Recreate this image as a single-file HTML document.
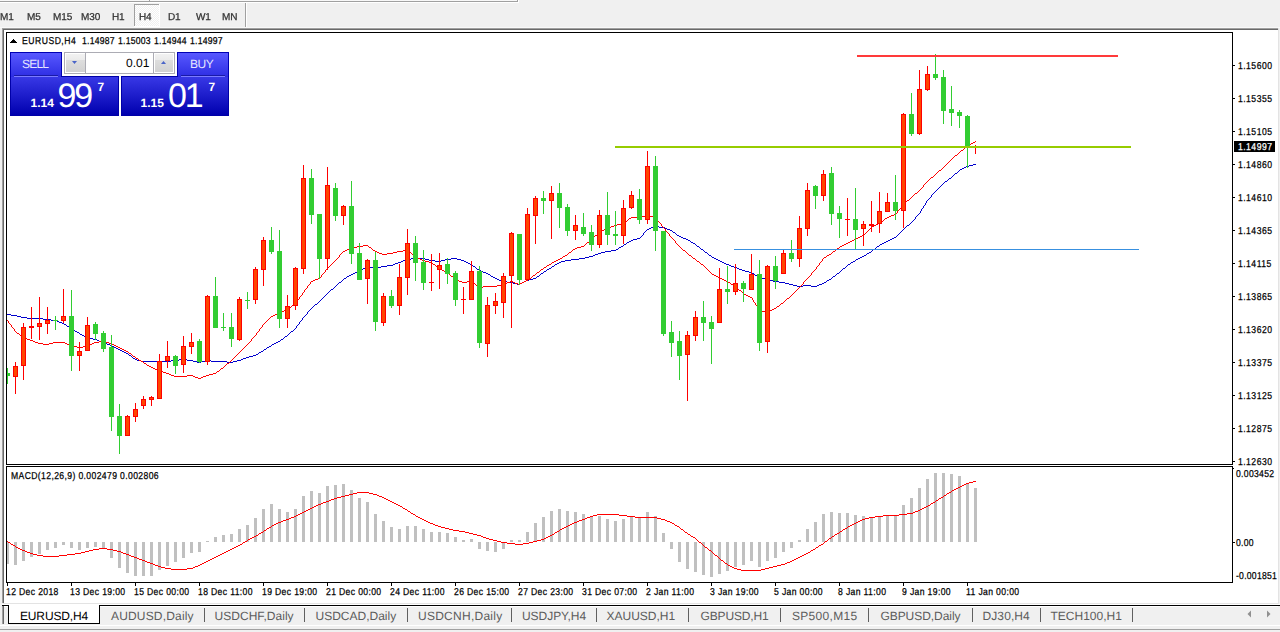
<!DOCTYPE html>
<html><head><meta charset="utf-8"><title>MetaTrader - EURUSD,H4</title>
<style>
html,body{margin:0;padding:0;width:1280px;height:632px;overflow:hidden;background:#f0f0f0}
body{position:relative;font-family:'Liberation Sans', sans-serif}
.t{position:absolute;white-space:pre;font-family:'Liberation Sans', sans-serif;text-rendering:geometricPrecision}
</style></head><body>
<svg width="1280" height="632" style="position:absolute;left:0;top:0"><rect x="0" y="0" width="517" height="1" fill="#f8f8f8"/><rect x="0" y="1" width="517" height="1" fill="#a0a0a0"/><rect x="517" y="0" width="1" height="2" fill="#a0a0a0"/><rect x="0" y="2" width="518" height="1" fill="#ffffff"/><rect x="518" y="0" width="1" height="3" fill="#ffffff"/><rect x="149" y="0" width="1" height="1" fill="#a0a0a0"/><defs><pattern id="dith" width="2" height="2" patternUnits="userSpaceOnUse"><rect width="2" height="2" fill="#f0f0f0"/><rect width="1" height="1" fill="#ffffff"/><rect x="1" y="1" width="1" height="1" fill="#ffffff"/></pattern></defs><rect x="134" y="4" width="25" height="22" fill="url(#dith)"/><rect x="134" y="4" width="25" height="1" fill="#a0a0a0"/><rect x="134" y="4" width="1" height="22" fill="#a0a0a0"/><rect x="159" y="4" width="1" height="23" fill="#ffffff"/><rect x="134" y="26" width="26" height="1" fill="#ffffff"/><rect x="245" y="3" width="1" height="24" fill="#a0a0a0"/><rect x="246" y="3" width="1" height="24" fill="#ffffff"/><rect x="0" y="27" width="1280" height="1" fill="#f8f8f8"/><rect x="2" y="28" width="1277" height="1" fill="#a0a0a0"/><rect x="3" y="29" width="1275" height="1" fill="#696969"/><rect x="2" y="28" width="1" height="575" fill="#a0a0a0"/><rect x="3" y="29" width="1" height="574" fill="#696969"/><rect x="4" y="30" width="1274" height="573" fill="#ffffff"/><rect x="1278" y="28" width="1" height="576" fill="#e3e3e3"/><rect x="3" y="603" width="1276" height="1" fill="#e3e3e3"/><rect x="2" y="604" width="1278" height="1" fill="#ffffff"/><rect x="6" y="32" width="1227" height="1" fill="#000"/><rect x="6" y="464" width="1227" height="1" fill="#000"/><rect x="6" y="32" width="1" height="433" fill="#000"/><rect x="1232" y="32" width="1" height="433" fill="#000"/><rect x="6" y="466" width="1227" height="1" fill="#000"/><rect x="6" y="582" width="1227" height="1" fill="#000"/><rect x="6" y="466" width="1" height="117" fill="#000"/><rect x="1232" y="466" width="1" height="117" fill="#000"/><rect x="1233" y="65" width="2" height="1" fill="#000"/><rect x="1233" y="98" width="2" height="1" fill="#000"/><rect x="1233" y="131" width="2" height="1" fill="#000"/><rect x="1233" y="164" width="2" height="1" fill="#000"/><rect x="1233" y="197" width="2" height="1" fill="#000"/><rect x="1233" y="230" width="2" height="1" fill="#000"/><rect x="1233" y="263" width="2" height="1" fill="#000"/><rect x="1233" y="296" width="2" height="1" fill="#000"/><rect x="1233" y="329" width="2" height="1" fill="#000"/><rect x="1233" y="362" width="2" height="1" fill="#000"/><rect x="1233" y="395" width="2" height="1" fill="#000"/><rect x="1233" y="428" width="2" height="1" fill="#000"/><rect x="1233" y="461" width="2" height="1" fill="#000"/><rect x="1233" y="468" width="1" height="1" fill="#000"/><rect x="1233" y="542" width="2" height="1" fill="#000"/><rect x="7" y="583" width="1" height="3" fill="#000"/><rect x="71" y="583" width="1" height="3" fill="#000"/><rect x="135" y="583" width="1" height="3" fill="#000"/><rect x="199" y="583" width="1" height="3" fill="#000"/><rect x="263" y="583" width="1" height="3" fill="#000"/><rect x="327" y="583" width="1" height="3" fill="#000"/><rect x="391" y="583" width="1" height="3" fill="#000"/><rect x="455" y="583" width="1" height="3" fill="#000"/><rect x="519" y="583" width="1" height="3" fill="#000"/><rect x="583" y="583" width="1" height="3" fill="#000"/><rect x="647" y="583" width="1" height="3" fill="#000"/><rect x="711" y="583" width="1" height="3" fill="#000"/><rect x="775" y="583" width="1" height="3" fill="#000"/><rect x="839" y="583" width="1" height="3" fill="#000"/><rect x="903" y="583" width="1" height="3" fill="#000"/><rect x="967" y="583" width="1" height="3" fill="#000"/><clipPath id="cmain"><rect x="7" y="33" width="1225" height="431"/></clipPath><clipPath id="cmacd"><rect x="7" y="467" width="1225" height="115"/></clipPath><g clip-path="url(#cmain)" shape-rendering="crispEdges"><path d="M973 164h3v1h-3zM969 165h4v1h-4zM966 166h3v1h-3zM964 167h2v1h-2zM962 168h2v1h-2zM960 169h2v1h-2zM959 170h1v1h-1zM958 171h1v1h-1zM957 172h1v1h-1zM955 173h2v1h-2zM954 174h1v1h-1zM953 175h1v1h-1zM952 176h1v1h-1zM951 177h1v1h-1zM949 178h2v1h-2zM948 179h1v1h-1zM947 180h1v1h-1zM945 181h2v1h-2zM944 182h1v1h-1zM943 183h1v1h-1zM942 184h1v1h-1zM941 185h1v1h-1zM940 186h1v1h-1zM939 187h1v1h-1zM938 188h1v1h-1zM937 189h1v1h-1zM936 190h1v1h-1zM935 191h1v1h-1zM934 192h1v1h-1zM933 193h1v1h-1zM932 194h1v1h-1zM931 195h1v1h-1zM931 196h1v1h-1zM930 197h1v1h-1zM929 198h1v1h-1zM928 199h1v1h-1zM927 200h1v1h-1zM926 201h1v1h-1zM926 202h1v1h-1zM925 203h1v1h-1zM925 204h1v1h-1zM924 205h1v1h-1zM923 206h1v1h-1zM923 207h1v1h-1zM922 208h1v1h-1zM921 209h1v1h-1zM921 210h1v1h-1zM920 211h1v1h-1zM920 212h1v1h-1zM919 213h1v1h-1zM918 214h1v1h-1zM917 215h1v1h-1zM916 216h1v1h-1zM915 217h1v1h-1zM915 218h1v1h-1zM914 219h1v1h-1zM913 220h1v1h-1zM912 221h1v1h-1zM911 222h1v1h-1zM910 223h1v1h-1zM909 224h1v1h-1zM907 225h2v1h-2zM654 226h5v1h-5zM906 226h1v1h-1zM651 227h3v1h-3zM659 227h6v1h-6zM905 227h1v1h-1zM649 228h2v1h-2zM665 228h2v1h-2zM904 228h1v1h-1zM647 229h2v1h-2zM667 229h3v1h-3zM903 229h1v1h-1zM646 230h1v1h-1zM670 230h2v1h-2zM902 230h1v1h-1zM645 231h1v1h-1zM672 231h1v1h-1zM901 231h1v1h-1zM644 232h1v1h-1zM673 232h2v1h-2zM900 232h1v1h-1zM643 233h1v1h-1zM675 233h1v1h-1zM899 233h1v1h-1zM643 234h1v1h-1zM676 234h1v1h-1zM898 234h1v1h-1zM642 235h1v1h-1zM677 235h2v1h-2zM897 235h1v1h-1zM641 236h1v1h-1zM679 236h2v1h-2zM896 236h1v1h-1zM640 237h1v1h-1zM681 237h2v1h-2zM894 237h2v1h-2zM637 238h3v1h-3zM683 238h3v1h-3zM892 238h2v1h-2zM633 239h4v1h-4zM686 239h2v1h-2zM890 239h2v1h-2zM631 240h2v1h-2zM688 240h2v1h-2zM888 240h2v1h-2zM629 241h2v1h-2zM690 241h1v1h-1zM886 241h2v1h-2zM627 242h2v1h-2zM691 242h2v1h-2zM884 242h2v1h-2zM626 243h1v1h-1zM693 243h2v1h-2zM882 243h2v1h-2zM624 244h2v1h-2zM695 244h1v1h-1zM880 244h2v1h-2zM623 245h1v1h-1zM696 245h1v1h-1zM879 245h1v1h-1zM621 246h2v1h-2zM697 246h2v1h-2zM877 246h2v1h-2zM619 247h2v1h-2zM699 247h1v1h-1zM876 247h1v1h-1zM618 248h1v1h-1zM700 248h1v1h-1zM875 248h1v1h-1zM616 249h2v1h-2zM701 249h2v1h-2zM873 249h2v1h-2zM611 250h5v1h-5zM703 250h1v1h-1zM872 250h1v1h-1zM605 251h6v1h-6zM704 251h1v1h-1zM871 251h1v1h-1zM601 252h4v1h-4zM705 252h2v1h-2zM869 252h2v1h-2zM598 253h3v1h-3zM707 253h1v1h-1zM867 253h2v1h-2zM595 254h3v1h-3zM708 254h1v1h-1zM866 254h1v1h-1zM593 255h2v1h-2zM709 255h2v1h-2zM864 255h2v1h-2zM589 256h4v1h-4zM711 256h1v1h-1zM862 256h2v1h-2zM585 257h4v1h-4zM712 257h2v1h-2zM860 257h2v1h-2zM411 258h14v1h-14zM451 258h6v1h-6zM579 258h6v1h-6zM714 258h2v1h-2zM858 258h2v1h-2zM406 259h5v1h-5zM425 259h4v1h-4zM445 259h6v1h-6zM457 259h4v1h-4zM571 259h8v1h-8zM716 259h2v1h-2zM856 259h2v1h-2zM403 260h3v1h-3zM429 260h6v1h-6zM441 260h4v1h-4zM461 260h3v1h-3zM565 260h6v1h-6zM718 260h2v1h-2zM855 260h1v1h-1zM401 261h2v1h-2zM435 261h6v1h-6zM464 261h2v1h-2zM561 261h4v1h-4zM720 261h2v1h-2zM853 261h2v1h-2zM398 262h3v1h-3zM466 262h2v1h-2zM559 262h2v1h-2zM722 262h2v1h-2zM851 262h2v1h-2zM395 263h3v1h-3zM468 263h2v1h-2zM557 263h2v1h-2zM724 263h2v1h-2zM850 263h1v1h-1zM393 264h2v1h-2zM470 264h2v1h-2zM555 264h2v1h-2zM726 264h3v1h-3zM848 264h2v1h-2zM387 265h6v1h-6zM472 265h1v1h-1zM554 265h1v1h-1zM729 265h2v1h-2zM847 265h1v1h-1zM367 266h2v1h-2zM381 266h6v1h-6zM473 266h2v1h-2zM552 266h2v1h-2zM731 266h3v1h-3zM846 266h1v1h-1zM365 267h2v1h-2zM369 267h4v1h-4zM377 267h4v1h-4zM475 267h1v1h-1zM551 267h1v1h-1zM734 267h3v1h-3zM845 267h1v1h-1zM363 268h2v1h-2zM373 268h4v1h-4zM476 268h1v1h-1zM549 268h2v1h-2zM737 268h2v1h-2zM843 268h2v1h-2zM362 269h1v1h-1zM477 269h2v1h-2zM547 269h2v1h-2zM739 269h3v1h-3zM842 269h1v1h-1zM360 270h2v1h-2zM479 270h2v1h-2zM546 270h1v1h-1zM742 270h3v1h-3zM841 270h1v1h-1zM358 271h2v1h-2zM481 271h2v1h-2zM544 271h2v1h-2zM745 271h4v1h-4zM840 271h1v1h-1zM355 272h3v1h-3zM483 272h3v1h-3zM543 272h1v1h-1zM749 272h3v1h-3zM839 272h1v1h-1zM353 273h2v1h-2zM486 273h2v1h-2zM541 273h2v1h-2zM752 273h2v1h-2zM837 273h2v1h-2zM351 274h2v1h-2zM488 274h2v1h-2zM540 274h1v1h-1zM754 274h1v1h-1zM836 274h1v1h-1zM349 275h2v1h-2zM490 275h1v1h-1zM539 275h1v1h-1zM755 275h2v1h-2zM835 275h1v1h-1zM347 276h2v1h-2zM491 276h2v1h-2zM537 276h2v1h-2zM757 276h2v1h-2zM833 276h2v1h-2zM346 277h1v1h-1zM493 277h2v1h-2zM536 277h1v1h-1zM759 277h2v1h-2zM832 277h1v1h-1zM344 278h2v1h-2zM495 278h2v1h-2zM533 278h3v1h-3zM761 278h4v1h-4zM831 278h1v1h-1zM343 279h1v1h-1zM497 279h2v1h-2zM529 279h4v1h-4zM765 279h4v1h-4zM829 279h2v1h-2zM342 280h1v1h-1zM499 280h3v1h-3zM526 280h3v1h-3zM769 280h4v1h-4zM827 280h2v1h-2zM341 281h1v1h-1zM502 281h5v1h-5zM524 281h2v1h-2zM773 281h6v1h-6zM826 281h1v1h-1zM339 282h2v1h-2zM507 282h6v1h-6zM522 282h2v1h-2zM779 282h6v1h-6zM824 282h2v1h-2zM338 283h1v1h-1zM513 283h4v1h-4zM520 283h2v1h-2zM785 283h4v1h-4zM822 283h2v1h-2zM337 284h1v1h-1zM517 284h3v1h-3zM789 284h4v1h-4zM819 284h3v1h-3zM336 285h1v1h-1zM793 285h4v1h-4zM803 285h8v1h-8zM817 285h2v1h-2zM335 286h1v1h-1zM797 286h6v1h-6zM811 286h6v1h-6zM334 287h1v1h-1zM333 288h1v1h-1zM331 289h2v1h-2zM330 290h1v1h-1zM329 291h1v1h-1zM328 292h1v1h-1zM327 293h1v1h-1zM326 294h1v1h-1zM325 295h1v1h-1zM324 296h1v1h-1zM323 297h1v1h-1zM322 298h1v1h-1zM321 299h1v1h-1zM320 300h1v1h-1zM319 301h1v1h-1zM318 302h1v1h-1zM317 303h1v1h-1zM315 304h2v1h-2zM314 305h1v1h-1zM313 306h1v1h-1zM312 307h1v1h-1zM311 308h1v1h-1zM310 309h1v1h-1zM309 310h1v1h-1zM308 311h1v1h-1zM307 312h1v1h-1zM307 313h1v1h-1zM7 314h4v1h-4zM306 314h1v1h-1zM11 315h6v1h-6zM305 315h1v1h-1zM17 316h4v1h-4zM304 316h1v1h-1zM21 317h6v1h-6zM303 317h1v1h-1zM27 318h16v1h-16zM302 318h1v1h-1zM43 319h8v1h-8zM302 319h1v1h-1zM51 320h6v1h-6zM301 320h1v1h-1zM57 321h2v1h-2zM300 321h1v1h-1zM59 322h3v1h-3zM299 322h1v1h-1zM62 323h2v1h-2zM299 323h1v1h-1zM64 324h2v1h-2zM298 324h1v1h-1zM66 325h1v1h-1zM297 325h1v1h-1zM67 326h2v1h-2zM296 326h1v1h-1zM69 327h2v1h-2zM296 327h1v1h-1zM71 328h1v1h-1zM295 328h1v1h-1zM72 329h2v1h-2zM294 329h1v1h-1zM74 330h1v1h-1zM293 330h1v1h-1zM75 331h2v1h-2zM291 331h2v1h-2zM77 332h2v1h-2zM290 332h1v1h-1zM79 333h1v1h-1zM289 333h1v1h-1zM80 334h2v1h-2zM288 334h1v1h-1zM82 335h2v1h-2zM287 335h1v1h-1zM84 336h2v1h-2zM285 336h2v1h-2zM86 337h3v1h-3zM284 337h1v1h-1zM89 338h4v1h-4zM283 338h1v1h-1zM93 339h4v1h-4zM281 339h2v1h-2zM97 340h2v1h-2zM280 340h1v1h-1zM99 341h3v1h-3zM278 341h2v1h-2zM102 342h3v1h-3zM276 342h2v1h-2zM105 343h2v1h-2zM274 343h2v1h-2zM107 344h3v1h-3zM272 344h2v1h-2zM110 345h2v1h-2zM271 345h1v1h-1zM112 346h2v1h-2zM269 346h2v1h-2zM114 347h2v1h-2zM267 347h2v1h-2zM116 348h2v1h-2zM266 348h1v1h-1zM118 349h2v1h-2zM264 349h2v1h-2zM120 350h2v1h-2zM263 350h1v1h-1zM122 351h2v1h-2zM261 351h2v1h-2zM124 352h2v1h-2zM259 352h2v1h-2zM126 353h2v1h-2zM258 353h1v1h-1zM128 354h1v1h-1zM256 354h2v1h-2zM129 355h2v1h-2zM253 355h3v1h-3zM131 356h1v1h-1zM249 356h4v1h-4zM132 357h1v1h-1zM246 357h3v1h-3zM133 358h2v1h-2zM243 358h3v1h-3zM135 359h2v1h-2zM179 359h8v1h-8zM241 359h2v1h-2zM137 360h4v1h-4zM171 360h8v1h-8zM187 360h6v1h-6zM205 360h6v1h-6zM237 360h4v1h-4zM141 361h30v1h-30zM193 361h4v1h-4zM201 361h4v1h-4zM211 361h16v1h-16zM233 361h4v1h-4zM197 362h4v1h-4zM227 362h6v1h-6z" fill="#0000cd"/><path d="M975 141h1v1h-1zM973 142h2v1h-2zM971 143h2v1h-2zM970 144h1v1h-1zM968 145h2v1h-2zM967 146h1v1h-1zM965 147h2v1h-2zM964 148h1v1h-1zM963 149h1v1h-1zM961 150h2v1h-2zM960 151h1v1h-1zM959 152h1v1h-1zM958 153h1v1h-1zM957 154h1v1h-1zM955 155h2v1h-2zM954 156h1v1h-1zM953 157h1v1h-1zM952 158h1v1h-1zM951 159h1v1h-1zM950 160h1v1h-1zM949 161h1v1h-1zM948 162h1v1h-1zM947 163h1v1h-1zM946 164h1v1h-1zM945 165h1v1h-1zM944 166h1v1h-1zM943 167h1v1h-1zM942 168h1v1h-1zM941 169h1v1h-1zM939 170h2v1h-2zM938 171h1v1h-1zM937 172h1v1h-1zM936 173h1v1h-1zM935 174h1v1h-1zM934 175h1v1h-1zM933 176h1v1h-1zM931 177h2v1h-2zM930 178h1v1h-1zM929 179h1v1h-1zM928 180h1v1h-1zM927 181h1v1h-1zM926 182h1v1h-1zM925 183h1v1h-1zM924 184h1v1h-1zM923 185h1v1h-1zM923 186h1v1h-1zM922 187h1v1h-1zM921 188h1v1h-1zM920 189h1v1h-1zM919 190h1v1h-1zM918 191h1v1h-1zM917 192h1v1h-1zM915 193h2v1h-2zM914 194h1v1h-1zM913 195h1v1h-1zM912 196h1v1h-1zM911 197h1v1h-1zM910 198h1v1h-1zM909 199h1v1h-1zM907 200h2v1h-2zM906 201h1v1h-1zM905 202h1v1h-1zM904 203h1v1h-1zM903 204h1v1h-1zM902 205h1v1h-1zM901 206h1v1h-1zM901 207h1v1h-1zM900 208h1v1h-1zM899 209h1v1h-1zM898 210h1v1h-1zM897 211h1v1h-1zM897 212h1v1h-1zM896 213h1v1h-1zM894 214h2v1h-2zM645 215h4v1h-4zM891 215h3v1h-3zM641 216h4v1h-4zM649 216h4v1h-4zM889 216h2v1h-2zM631 217h10v1h-10zM653 217h3v1h-3zM887 217h2v1h-2zM629 218h2v1h-2zM656 218h1v1h-1zM885 218h2v1h-2zM628 219h1v1h-1zM657 219h1v1h-1zM884 219h1v1h-1zM627 220h1v1h-1zM657 220h1v1h-1zM883 220h1v1h-1zM625 221h2v1h-2zM658 221h1v1h-1zM881 221h2v1h-2zM624 222h1v1h-1zM659 222h1v1h-1zM880 222h1v1h-1zM621 223h3v1h-3zM660 223h1v1h-1zM878 223h2v1h-2zM617 224h4v1h-4zM661 224h1v1h-1zM876 224h2v1h-2zM614 225h3v1h-3zM661 225h1v1h-1zM874 225h2v1h-2zM611 226h3v1h-3zM662 226h1v1h-1zM872 226h2v1h-2zM609 227h2v1h-2zM663 227h1v1h-1zM871 227h1v1h-1zM606 228h3v1h-3zM664 228h1v1h-1zM870 228h1v1h-1zM604 229h2v1h-2zM665 229h1v1h-1zM869 229h1v1h-1zM602 230h2v1h-2zM665 230h1v1h-1zM868 230h1v1h-1zM600 231h2v1h-2zM666 231h1v1h-1zM867 231h1v1h-1zM599 232h1v1h-1zM667 232h1v1h-1zM866 232h1v1h-1zM598 233h1v1h-1zM668 233h1v1h-1zM865 233h1v1h-1zM597 234h1v1h-1zM669 234h1v1h-1zM864 234h1v1h-1zM595 235h2v1h-2zM669 235h1v1h-1zM862 235h2v1h-2zM594 236h1v1h-1zM670 236h1v1h-1zM860 236h2v1h-2zM593 237h1v1h-1zM671 237h1v1h-1zM858 237h2v1h-2zM592 238h1v1h-1zM672 238h1v1h-1zM856 238h2v1h-2zM591 239h1v1h-1zM673 239h1v1h-1zM854 239h2v1h-2zM590 240h1v1h-1zM674 240h1v1h-1zM852 240h2v1h-2zM589 241h1v1h-1zM675 241h1v1h-1zM850 241h2v1h-2zM587 242h2v1h-2zM675 242h1v1h-1zM848 242h2v1h-2zM586 243h1v1h-1zM676 243h1v1h-1zM846 243h2v1h-2zM585 244h1v1h-1zM677 244h1v1h-1zM844 244h2v1h-2zM363 245h5v1h-5zM584 245h1v1h-1zM678 245h1v1h-1zM842 245h2v1h-2zM357 246h6v1h-6zM368 246h1v1h-1zM581 246h3v1h-3zM679 246h1v1h-1zM840 246h2v1h-2zM353 247h4v1h-4zM369 247h2v1h-2zM577 247h4v1h-4zM680 247h1v1h-1zM839 247h1v1h-1zM350 248h3v1h-3zM371 248h1v1h-1zM575 248h2v1h-2zM681 248h1v1h-1zM837 248h2v1h-2zM347 249h3v1h-3zM372 249h1v1h-1zM573 249h2v1h-2zM682 249h1v1h-1zM836 249h1v1h-1zM345 250h2v1h-2zM373 250h2v1h-2zM403 250h5v1h-5zM572 250h1v1h-1zM683 250h2v1h-2zM835 250h1v1h-1zM343 251h2v1h-2zM375 251h2v1h-2zM397 251h6v1h-6zM408 251h1v1h-1zM571 251h1v1h-1zM685 251h1v1h-1zM833 251h2v1h-2zM342 252h1v1h-1zM377 252h2v1h-2zM393 252h4v1h-4zM409 252h2v1h-2zM569 252h2v1h-2zM686 252h1v1h-1zM832 252h1v1h-1zM341 253h1v1h-1zM379 253h3v1h-3zM387 253h6v1h-6zM411 253h1v1h-1zM568 253h1v1h-1zM687 253h1v1h-1zM831 253h1v1h-1zM340 254h1v1h-1zM382 254h5v1h-5zM412 254h1v1h-1zM567 254h1v1h-1zM688 254h1v1h-1zM829 254h2v1h-2zM339 255h1v1h-1zM413 255h2v1h-2zM565 255h2v1h-2zM689 255h2v1h-2zM827 255h2v1h-2zM339 256h1v1h-1zM415 256h1v1h-1zM563 256h2v1h-2zM691 256h1v1h-1zM826 256h1v1h-1zM338 257h1v1h-1zM416 257h2v1h-2zM562 257h1v1h-1zM692 257h1v1h-1zM824 257h2v1h-2zM337 258h1v1h-1zM418 258h2v1h-2zM560 258h2v1h-2zM693 258h2v1h-2zM823 258h1v1h-1zM336 259h1v1h-1zM420 259h2v1h-2zM558 259h2v1h-2zM695 259h1v1h-1zM822 259h1v1h-1zM335 260h1v1h-1zM422 260h3v1h-3zM556 260h2v1h-2zM696 260h1v1h-1zM822 260h1v1h-1zM334 261h1v1h-1zM425 261h4v1h-4zM554 261h2v1h-2zM697 261h2v1h-2zM821 261h1v1h-1zM333 262h1v1h-1zM429 262h3v1h-3zM552 262h2v1h-2zM699 262h1v1h-1zM820 262h1v1h-1zM332 263h1v1h-1zM432 263h1v1h-1zM551 263h1v1h-1zM700 263h1v1h-1zM819 263h1v1h-1zM331 264h1v1h-1zM433 264h2v1h-2zM549 264h2v1h-2zM701 264h2v1h-2zM819 264h1v1h-1zM330 265h1v1h-1zM435 265h1v1h-1zM547 265h2v1h-2zM703 265h1v1h-1zM818 265h1v1h-1zM329 266h1v1h-1zM436 266h1v1h-1zM546 266h1v1h-1zM704 266h1v1h-1zM817 266h1v1h-1zM328 267h1v1h-1zM437 267h2v1h-2zM544 267h2v1h-2zM705 267h1v1h-1zM816 267h1v1h-1zM327 268h1v1h-1zM439 268h1v1h-1zM543 268h1v1h-1zM706 268h1v1h-1zM816 268h1v1h-1zM326 269h1v1h-1zM440 269h2v1h-2zM541 269h2v1h-2zM707 269h1v1h-1zM815 269h1v1h-1zM325 270h1v1h-1zM442 270h2v1h-2zM540 270h1v1h-1zM708 270h1v1h-1zM814 270h1v1h-1zM325 271h1v1h-1zM444 271h2v1h-2zM539 271h1v1h-1zM709 271h1v1h-1zM813 271h1v1h-1zM324 272h1v1h-1zM446 272h2v1h-2zM537 272h2v1h-2zM710 272h1v1h-1zM812 272h1v1h-1zM323 273h1v1h-1zM448 273h1v1h-1zM536 273h1v1h-1zM711 273h1v1h-1zM811 273h1v1h-1zM322 274h1v1h-1zM449 274h1v1h-1zM535 274h1v1h-1zM712 274h2v1h-2zM811 274h1v1h-1zM321 275h1v1h-1zM450 275h1v1h-1zM533 275h2v1h-2zM714 275h2v1h-2zM810 275h1v1h-1zM321 276h1v1h-1zM451 276h2v1h-2zM532 276h1v1h-1zM716 276h2v1h-2zM809 276h1v1h-1zM320 277h1v1h-1zM453 277h1v1h-1zM531 277h1v1h-1zM718 277h2v1h-2zM808 277h1v1h-1zM318 278h2v1h-2zM454 278h1v1h-1zM529 278h2v1h-2zM720 278h2v1h-2zM807 278h1v1h-1zM315 279h3v1h-3zM455 279h2v1h-2zM528 279h1v1h-1zM722 279h2v1h-2zM806 279h1v1h-1zM313 280h2v1h-2zM457 280h2v1h-2zM526 280h2v1h-2zM724 280h2v1h-2zM805 280h1v1h-1zM311 281h2v1h-2zM459 281h3v1h-3zM467 281h5v1h-5zM510 281h3v1h-3zM524 281h2v1h-2zM726 281h2v1h-2zM804 281h1v1h-1zM310 282h1v1h-1zM462 282h5v1h-5zM472 282h1v1h-1zM507 282h3v1h-3zM513 282h2v1h-2zM522 282h2v1h-2zM728 282h2v1h-2zM803 282h1v1h-1zM310 283h1v1h-1zM473 283h2v1h-2zM505 283h2v1h-2zM515 283h3v1h-3zM520 283h2v1h-2zM730 283h1v1h-1zM803 283h1v1h-1zM309 284h1v1h-1zM475 284h1v1h-1zM501 284h4v1h-4zM518 284h2v1h-2zM731 284h2v1h-2zM802 284h1v1h-1zM308 285h1v1h-1zM476 285h1v1h-1zM497 285h4v1h-4zM733 285h2v1h-2zM801 285h1v1h-1zM307 286h1v1h-1zM477 286h2v1h-2zM483 286h14v1h-14zM735 286h1v1h-1zM800 286h1v1h-1zM307 287h1v1h-1zM479 287h4v1h-4zM736 287h1v1h-1zM799 287h1v1h-1zM306 288h1v1h-1zM737 288h1v1h-1zM798 288h1v1h-1zM305 289h1v1h-1zM738 289h1v1h-1zM797 289h1v1h-1zM304 290h1v1h-1zM739 290h2v1h-2zM796 290h1v1h-1zM304 291h1v1h-1zM741 291h1v1h-1zM795 291h1v1h-1zM303 292h1v1h-1zM742 292h1v1h-1zM794 292h1v1h-1zM302 293h1v1h-1zM743 293h1v1h-1zM793 293h1v1h-1zM302 294h1v1h-1zM744 294h2v1h-2zM792 294h1v1h-1zM301 295h1v1h-1zM746 295h2v1h-2zM791 295h1v1h-1zM300 296h1v1h-1zM748 296h2v1h-2zM790 296h1v1h-1zM299 297h1v1h-1zM750 297h2v1h-2zM789 297h1v1h-1zM299 298h1v1h-1zM752 298h1v1h-1zM787 298h2v1h-2zM298 299h1v1h-1zM752 299h1v1h-1zM786 299h1v1h-1zM297 300h1v1h-1zM753 300h1v1h-1zM785 300h1v1h-1zM296 301h1v1h-1zM753 301h1v1h-1zM784 301h1v1h-1zM296 302h1v1h-1zM754 302h1v1h-1zM783 302h1v1h-1zM295 303h1v1h-1zM755 303h1v1h-1zM781 303h2v1h-2zM293 304h2v1h-2zM755 304h1v1h-1zM780 304h1v1h-1zM292 305h1v1h-1zM756 305h1v1h-1zM779 305h1v1h-1zM291 306h1v1h-1zM757 306h1v1h-1zM777 306h2v1h-2zM289 307h2v1h-2zM757 307h1v1h-1zM776 307h1v1h-1zM288 308h1v1h-1zM758 308h1v1h-1zM774 308h2v1h-2zM286 309h2v1h-2zM758 309h1v1h-1zM772 309h2v1h-2zM284 310h2v1h-2zM759 310h2v1h-2zM770 310h2v1h-2zM282 311h2v1h-2zM761 311h4v1h-4zM768 311h2v1h-2zM280 312h2v1h-2zM765 312h3v1h-3zM278 313h2v1h-2zM275 314h3v1h-3zM273 315h2v1h-2zM271 316h2v1h-2zM270 317h1v1h-1zM269 318h1v1h-1zM268 319h1v1h-1zM7 320h1v1h-1zM267 320h1v1h-1zM8 321h1v1h-1zM266 321h1v1h-1zM8 322h1v1h-1zM265 322h1v1h-1zM9 323h1v1h-1zM264 323h1v1h-1zM10 324h1v1h-1zM263 324h1v1h-1zM11 325h1v1h-1zM262 325h1v1h-1zM11 326h1v1h-1zM262 326h1v1h-1zM12 327h1v1h-1zM261 327h1v1h-1zM13 328h1v1h-1zM260 328h1v1h-1zM14 329h1v1h-1zM259 329h1v1h-1zM14 330h1v1h-1zM259 330h1v1h-1zM15 331h1v1h-1zM258 331h1v1h-1zM16 332h1v1h-1zM257 332h1v1h-1zM17 333h2v1h-2zM256 333h1v1h-1zM19 334h1v1h-1zM256 334h1v1h-1zM20 335h1v1h-1zM255 335h1v1h-1zM21 336h2v1h-2zM254 336h1v1h-1zM23 337h2v1h-2zM253 337h1v1h-1zM25 338h2v1h-2zM252 338h1v1h-1zM27 339h3v1h-3zM251 339h1v1h-1zM30 340h3v1h-3zM251 340h1v1h-1zM33 341h2v1h-2zM99 341h6v1h-6zM250 341h1v1h-1zM35 342h3v1h-3zM53 342h12v1h-12zM94 342h5v1h-5zM105 342h4v1h-4zM249 342h1v1h-1zM38 343h5v1h-5zM49 343h4v1h-4zM65 343h2v1h-2zM92 343h2v1h-2zM109 343h3v1h-3zM248 343h1v1h-1zM43 344h6v1h-6zM67 344h3v1h-3zM90 344h2v1h-2zM112 344h2v1h-2zM247 344h1v1h-1zM70 345h3v1h-3zM88 345h2v1h-2zM114 345h2v1h-2zM246 345h1v1h-1zM73 346h4v1h-4zM83 346h5v1h-5zM116 346h2v1h-2zM245 346h1v1h-1zM77 347h6v1h-6zM118 347h2v1h-2zM244 347h1v1h-1zM120 348h2v1h-2zM243 348h1v1h-1zM122 349h2v1h-2zM242 349h1v1h-1zM124 350h2v1h-2zM241 350h1v1h-1zM126 351h2v1h-2zM240 351h1v1h-1zM128 352h1v1h-1zM239 352h1v1h-1zM129 353h2v1h-2zM238 353h1v1h-1zM131 354h1v1h-1zM237 354h1v1h-1zM132 355h1v1h-1zM236 355h1v1h-1zM133 356h2v1h-2zM235 356h1v1h-1zM135 357h1v1h-1zM234 357h1v1h-1zM136 358h2v1h-2zM233 358h1v1h-1zM138 359h1v1h-1zM232 359h1v1h-1zM139 360h2v1h-2zM231 360h1v1h-1zM141 361h2v1h-2zM230 361h1v1h-1zM143 362h1v1h-1zM229 362h1v1h-1zM144 363h2v1h-2zM227 363h2v1h-2zM146 364h1v1h-1zM226 364h1v1h-1zM147 365h2v1h-2zM225 365h1v1h-1zM149 366h2v1h-2zM224 366h1v1h-1zM151 367h2v1h-2zM223 367h1v1h-1zM153 368h2v1h-2zM221 368h2v1h-2zM155 369h3v1h-3zM220 369h1v1h-1zM158 370h3v1h-3zM219 370h1v1h-1zM161 371h2v1h-2zM217 371h2v1h-2zM163 372h3v1h-3zM216 372h1v1h-1zM166 373h3v1h-3zM213 373h3v1h-3zM169 374h2v1h-2zM209 374h4v1h-4zM171 375h3v1h-3zM187 375h6v1h-6zM206 375h3v1h-3zM174 376h13v1h-13zM193 376h2v1h-2zM203 376h3v1h-3zM195 377h3v1h-3zM201 377h2v1h-2zM198 378h3v1h-3z" fill="#ff0000"/><rect x="7" y="368" width="1" height="16" fill="#32cd32"/><rect x="5" y="373" width="5" height="3" fill="#32cd32"/><rect x="15" y="362" width="1" height="32" fill="#ff0000"/><rect x="13" y="366" width="5" height="11" fill="#ff0000"/><rect x="14" y="367" width="3" height="9" fill="#ff4500"/><rect x="23" y="323" width="1" height="57" fill="#ff0000"/><rect x="21" y="327" width="5" height="39" fill="#ff0000"/><rect x="22" y="328" width="3" height="37" fill="#ff4500"/><rect x="31" y="307" width="1" height="32" fill="#ff0000"/><rect x="29" y="326" width="5" height="2" fill="#ff0000"/><rect x="39" y="297" width="1" height="43" fill="#ff0000"/><rect x="37" y="323" width="5" height="4" fill="#ff0000"/><rect x="38" y="324" width="3" height="2" fill="#ff4500"/><rect x="47" y="307" width="1" height="27" fill="#ff0000"/><rect x="45" y="320" width="5" height="4" fill="#ff0000"/><rect x="46" y="321" width="3" height="2" fill="#ff4500"/><rect x="55" y="316" width="1" height="14" fill="#32cd32"/><rect x="53" y="320" width="5" height="1" fill="#32cd32"/><rect x="63" y="289" width="1" height="34" fill="#ff0000"/><rect x="61" y="316" width="5" height="5" fill="#ff0000"/><rect x="62" y="317" width="3" height="3" fill="#ff4500"/><rect x="71" y="290" width="1" height="81" fill="#32cd32"/><rect x="69" y="316" width="5" height="40" fill="#32cd32"/><rect x="79" y="342" width="1" height="29" fill="#ff0000"/><rect x="77" y="351" width="5" height="5" fill="#ff0000"/><rect x="78" y="352" width="3" height="3" fill="#ff4500"/><rect x="87" y="317" width="1" height="34" fill="#ff0000"/><rect x="85" y="325" width="5" height="26" fill="#ff0000"/><rect x="86" y="326" width="3" height="24" fill="#ff4500"/><rect x="95" y="322" width="1" height="18" fill="#32cd32"/><rect x="93" y="324" width="5" height="10" fill="#32cd32"/><rect x="103" y="331" width="1" height="21" fill="#32cd32"/><rect x="101" y="333" width="5" height="16" fill="#32cd32"/><rect x="111" y="335" width="1" height="96" fill="#32cd32"/><rect x="109" y="347" width="5" height="70" fill="#32cd32"/><rect x="119" y="404" width="1" height="50" fill="#32cd32"/><rect x="117" y="416" width="5" height="20" fill="#32cd32"/><rect x="127" y="415" width="1" height="21" fill="#ff0000"/><rect x="125" y="416" width="5" height="20" fill="#ff0000"/><rect x="126" y="417" width="3" height="18" fill="#ff4500"/><rect x="135" y="403" width="1" height="19" fill="#ff0000"/><rect x="133" y="409" width="5" height="8" fill="#ff0000"/><rect x="134" y="410" width="3" height="6" fill="#ff4500"/><rect x="143" y="396" width="1" height="13" fill="#ff0000"/><rect x="141" y="399" width="5" height="7" fill="#ff0000"/><rect x="142" y="400" width="3" height="5" fill="#ff4500"/><rect x="151" y="396" width="1" height="10" fill="#ff0000"/><rect x="149" y="397" width="5" height="3" fill="#ff0000"/><rect x="150" y="398" width="3" height="1" fill="#ff4500"/><rect x="159" y="354" width="1" height="45" fill="#ff0000"/><rect x="157" y="361" width="5" height="38" fill="#ff0000"/><rect x="158" y="362" width="3" height="36" fill="#ff4500"/><rect x="167" y="341" width="1" height="27" fill="#ff0000"/><rect x="165" y="356" width="5" height="5" fill="#ff0000"/><rect x="166" y="357" width="3" height="3" fill="#ff4500"/><rect x="175" y="355" width="1" height="19" fill="#32cd32"/><rect x="173" y="356" width="5" height="10" fill="#32cd32"/><rect x="183" y="336" width="1" height="37" fill="#ff0000"/><rect x="181" y="346" width="5" height="19" fill="#ff0000"/><rect x="182" y="347" width="3" height="17" fill="#ff4500"/><rect x="191" y="333" width="1" height="21" fill="#ff0000"/><rect x="189" y="342" width="5" height="5" fill="#ff0000"/><rect x="190" y="343" width="3" height="3" fill="#ff4500"/><rect x="199" y="339" width="1" height="24" fill="#32cd32"/><rect x="197" y="341" width="5" height="21" fill="#32cd32"/><rect x="207" y="295" width="1" height="70" fill="#ff0000"/><rect x="205" y="296" width="5" height="66" fill="#ff0000"/><rect x="206" y="297" width="3" height="64" fill="#ff4500"/><rect x="215" y="277" width="1" height="51" fill="#32cd32"/><rect x="213" y="296" width="5" height="32" fill="#32cd32"/><rect x="223" y="313" width="1" height="18" fill="#32cd32"/><rect x="221" y="327" width="5" height="1" fill="#32cd32"/><rect x="231" y="313" width="1" height="34" fill="#32cd32"/><rect x="229" y="327" width="5" height="12" fill="#32cd32"/><rect x="239" y="297" width="1" height="44" fill="#ff0000"/><rect x="237" y="299" width="5" height="41" fill="#ff0000"/><rect x="238" y="300" width="3" height="39" fill="#ff4500"/><rect x="247" y="292" width="1" height="17" fill="#32cd32"/><rect x="245" y="300" width="5" height="1" fill="#32cd32"/><rect x="255" y="267" width="1" height="37" fill="#ff0000"/><rect x="253" y="269" width="5" height="31" fill="#ff0000"/><rect x="254" y="270" width="3" height="29" fill="#ff4500"/><rect x="263" y="237" width="1" height="49" fill="#ff0000"/><rect x="261" y="240" width="5" height="30" fill="#ff0000"/><rect x="262" y="241" width="3" height="28" fill="#ff4500"/><rect x="271" y="227" width="1" height="27" fill="#32cd32"/><rect x="269" y="240" width="5" height="12" fill="#32cd32"/><rect x="279" y="230" width="1" height="98" fill="#32cd32"/><rect x="277" y="251" width="5" height="68" fill="#32cd32"/><rect x="287" y="295" width="1" height="33" fill="#ff0000"/><rect x="285" y="306" width="5" height="13" fill="#ff0000"/><rect x="286" y="307" width="3" height="11" fill="#ff4500"/><rect x="295" y="267" width="1" height="43" fill="#ff0000"/><rect x="293" y="268" width="5" height="38" fill="#ff0000"/><rect x="294" y="269" width="3" height="36" fill="#ff4500"/><rect x="303" y="165" width="1" height="109" fill="#ff0000"/><rect x="301" y="178" width="5" height="91" fill="#ff0000"/><rect x="302" y="179" width="3" height="89" fill="#ff4500"/><rect x="311" y="169" width="1" height="55" fill="#32cd32"/><rect x="309" y="178" width="5" height="37" fill="#32cd32"/><rect x="319" y="214" width="1" height="65" fill="#32cd32"/><rect x="317" y="214" width="5" height="45" fill="#32cd32"/><rect x="327" y="167" width="1" height="103" fill="#ff0000"/><rect x="325" y="185" width="5" height="74" fill="#ff0000"/><rect x="326" y="186" width="3" height="72" fill="#ff4500"/><rect x="335" y="183" width="1" height="38" fill="#32cd32"/><rect x="333" y="188" width="5" height="28" fill="#32cd32"/><rect x="343" y="205" width="1" height="20" fill="#ff0000"/><rect x="341" y="206" width="5" height="10" fill="#ff0000"/><rect x="342" y="207" width="3" height="8" fill="#ff4500"/><rect x="351" y="181" width="1" height="83" fill="#32cd32"/><rect x="349" y="206" width="5" height="48" fill="#32cd32"/><rect x="359" y="243" width="1" height="37" fill="#32cd32"/><rect x="357" y="253" width="5" height="27" fill="#32cd32"/><rect x="367" y="259" width="1" height="45" fill="#ff0000"/><rect x="365" y="260" width="5" height="19" fill="#ff0000"/><rect x="366" y="261" width="3" height="17" fill="#ff4500"/><rect x="375" y="252" width="1" height="79" fill="#32cd32"/><rect x="373" y="260" width="5" height="62" fill="#32cd32"/><rect x="383" y="293" width="1" height="33" fill="#ff0000"/><rect x="381" y="296" width="5" height="27" fill="#ff0000"/><rect x="382" y="297" width="3" height="25" fill="#ff4500"/><rect x="391" y="290" width="1" height="18" fill="#32cd32"/><rect x="389" y="296" width="5" height="10" fill="#32cd32"/><rect x="399" y="264" width="1" height="51" fill="#ff0000"/><rect x="397" y="277" width="5" height="29" fill="#ff0000"/><rect x="398" y="278" width="3" height="27" fill="#ff4500"/><rect x="407" y="229" width="1" height="66" fill="#ff0000"/><rect x="405" y="243" width="5" height="35" fill="#ff0000"/><rect x="406" y="244" width="3" height="33" fill="#ff4500"/><rect x="415" y="236" width="1" height="45" fill="#32cd32"/><rect x="413" y="243" width="5" height="20" fill="#32cd32"/><rect x="423" y="250" width="1" height="40" fill="#32cd32"/><rect x="421" y="262" width="5" height="21" fill="#32cd32"/><rect x="431" y="254" width="1" height="37" fill="#ff0000"/><rect x="429" y="282" width="5" height="1" fill="#ff0000"/><rect x="439" y="253" width="1" height="36" fill="#ff0000"/><rect x="437" y="265" width="5" height="5" fill="#ff0000"/><rect x="438" y="266" width="3" height="3" fill="#ff4500"/><rect x="447" y="258" width="1" height="26" fill="#32cd32"/><rect x="445" y="264" width="5" height="10" fill="#32cd32"/><rect x="455" y="271" width="1" height="35" fill="#32cd32"/><rect x="453" y="273" width="5" height="27" fill="#32cd32"/><rect x="463" y="287" width="1" height="27" fill="#ff0000"/><rect x="461" y="299" width="5" height="1" fill="#ff0000"/><rect x="471" y="261" width="1" height="39" fill="#ff0000"/><rect x="469" y="271" width="5" height="29" fill="#ff0000"/><rect x="470" y="272" width="3" height="27" fill="#ff4500"/><rect x="479" y="266" width="1" height="82" fill="#32cd32"/><rect x="477" y="271" width="5" height="72" fill="#32cd32"/><rect x="487" y="297" width="1" height="60" fill="#ff0000"/><rect x="485" y="305" width="5" height="39" fill="#ff0000"/><rect x="486" y="306" width="3" height="37" fill="#ff4500"/><rect x="495" y="293" width="1" height="21" fill="#ff0000"/><rect x="493" y="301" width="5" height="5" fill="#ff0000"/><rect x="494" y="302" width="3" height="3" fill="#ff4500"/><rect x="503" y="273" width="1" height="45" fill="#ff0000"/><rect x="501" y="276" width="5" height="27" fill="#ff0000"/><rect x="502" y="277" width="3" height="25" fill="#ff4500"/><rect x="511" y="232" width="1" height="96" fill="#ff0000"/><rect x="509" y="233" width="5" height="43" fill="#ff0000"/><rect x="510" y="234" width="3" height="41" fill="#ff4500"/><rect x="519" y="234" width="1" height="51" fill="#32cd32"/><rect x="517" y="234" width="5" height="46" fill="#32cd32"/><rect x="527" y="208" width="1" height="73" fill="#ff0000"/><rect x="525" y="214" width="5" height="66" fill="#ff0000"/><rect x="526" y="215" width="3" height="64" fill="#ff4500"/><rect x="535" y="196" width="1" height="48" fill="#ff0000"/><rect x="533" y="198" width="5" height="18" fill="#ff0000"/><rect x="534" y="199" width="3" height="16" fill="#ff4500"/><rect x="543" y="191" width="1" height="23" fill="#32cd32"/><rect x="541" y="198" width="5" height="3" fill="#32cd32"/><rect x="551" y="186" width="1" height="53" fill="#ff0000"/><rect x="549" y="193" width="5" height="8" fill="#ff0000"/><rect x="550" y="194" width="3" height="6" fill="#ff4500"/><rect x="559" y="183" width="1" height="45" fill="#32cd32"/><rect x="557" y="193" width="5" height="15" fill="#32cd32"/><rect x="567" y="204" width="1" height="32" fill="#32cd32"/><rect x="565" y="207" width="5" height="24" fill="#32cd32"/><rect x="575" y="215" width="1" height="25" fill="#ff0000"/><rect x="573" y="225" width="5" height="6" fill="#ff0000"/><rect x="574" y="226" width="3" height="4" fill="#ff4500"/><rect x="583" y="213" width="1" height="23" fill="#32cd32"/><rect x="581" y="227" width="5" height="7" fill="#32cd32"/><rect x="591" y="225" width="1" height="26" fill="#32cd32"/><rect x="589" y="232" width="5" height="13" fill="#32cd32"/><rect x="599" y="210" width="1" height="38" fill="#ff0000"/><rect x="597" y="215" width="5" height="30" fill="#ff0000"/><rect x="598" y="216" width="3" height="28" fill="#ff4500"/><rect x="607" y="192" width="1" height="53" fill="#32cd32"/><rect x="605" y="215" width="5" height="20" fill="#32cd32"/><rect x="615" y="211" width="1" height="34" fill="#32cd32"/><rect x="613" y="234" width="5" height="2" fill="#32cd32"/><rect x="623" y="200" width="1" height="44" fill="#ff0000"/><rect x="621" y="208" width="5" height="28" fill="#ff0000"/><rect x="622" y="209" width="3" height="26" fill="#ff4500"/><rect x="631" y="191" width="1" height="18" fill="#ff0000"/><rect x="629" y="195" width="5" height="13" fill="#ff0000"/><rect x="630" y="196" width="3" height="11" fill="#ff4500"/><rect x="639" y="189" width="1" height="35" fill="#32cd32"/><rect x="637" y="199" width="5" height="21" fill="#32cd32"/><rect x="647" y="151" width="1" height="73" fill="#ff0000"/><rect x="645" y="166" width="5" height="54" fill="#ff0000"/><rect x="646" y="167" width="3" height="52" fill="#ff4500"/><rect x="655" y="156" width="1" height="95" fill="#32cd32"/><rect x="653" y="166" width="5" height="65" fill="#32cd32"/><rect x="663" y="231" width="1" height="105" fill="#32cd32"/><rect x="661" y="231" width="5" height="103" fill="#32cd32"/><rect x="671" y="321" width="1" height="36" fill="#32cd32"/><rect x="669" y="332" width="5" height="11" fill="#32cd32"/><rect x="679" y="331" width="1" height="49" fill="#32cd32"/><rect x="677" y="341" width="5" height="15" fill="#32cd32"/><rect x="687" y="331" width="1" height="70" fill="#ff0000"/><rect x="685" y="335" width="5" height="20" fill="#ff0000"/><rect x="686" y="336" width="3" height="18" fill="#ff4500"/><rect x="695" y="311" width="1" height="30" fill="#ff0000"/><rect x="693" y="317" width="5" height="19" fill="#ff0000"/><rect x="694" y="318" width="3" height="17" fill="#ff4500"/><rect x="703" y="301" width="1" height="40" fill="#32cd32"/><rect x="701" y="317" width="5" height="6" fill="#32cd32"/><rect x="711" y="316" width="1" height="48" fill="#32cd32"/><rect x="709" y="322" width="5" height="7" fill="#32cd32"/><rect x="719" y="268" width="1" height="55" fill="#ff0000"/><rect x="717" y="289" width="5" height="34" fill="#ff0000"/><rect x="718" y="290" width="3" height="32" fill="#ff4500"/><rect x="727" y="266" width="1" height="38" fill="#32cd32"/><rect x="725" y="289" width="5" height="3" fill="#32cd32"/><rect x="735" y="264" width="1" height="31" fill="#ff0000"/><rect x="733" y="283" width="5" height="9" fill="#ff0000"/><rect x="734" y="284" width="3" height="7" fill="#ff4500"/><rect x="743" y="281" width="1" height="21" fill="#32cd32"/><rect x="741" y="283" width="5" height="6" fill="#32cd32"/><rect x="751" y="254" width="1" height="36" fill="#ff0000"/><rect x="749" y="274" width="5" height="16" fill="#ff0000"/><rect x="750" y="275" width="3" height="14" fill="#ff4500"/><rect x="759" y="260" width="1" height="91" fill="#32cd32"/><rect x="757" y="274" width="5" height="69" fill="#32cd32"/><rect x="767" y="265" width="1" height="88" fill="#ff0000"/><rect x="765" y="266" width="5" height="76" fill="#ff0000"/><rect x="766" y="267" width="3" height="74" fill="#ff4500"/><rect x="775" y="256" width="1" height="33" fill="#32cd32"/><rect x="773" y="266" width="5" height="15" fill="#32cd32"/><rect x="783" y="250" width="1" height="24" fill="#ff0000"/><rect x="781" y="253" width="5" height="21" fill="#ff0000"/><rect x="782" y="254" width="3" height="19" fill="#ff4500"/><rect x="791" y="240" width="1" height="22" fill="#32cd32"/><rect x="789" y="253" width="5" height="6" fill="#32cd32"/><rect x="799" y="216" width="1" height="51" fill="#ff0000"/><rect x="797" y="228" width="5" height="31" fill="#ff0000"/><rect x="798" y="229" width="3" height="29" fill="#ff4500"/><rect x="807" y="183" width="1" height="53" fill="#ff0000"/><rect x="805" y="190" width="5" height="39" fill="#ff0000"/><rect x="806" y="191" width="3" height="37" fill="#ff4500"/><rect x="815" y="185" width="1" height="24" fill="#32cd32"/><rect x="813" y="186" width="5" height="10" fill="#32cd32"/><rect x="823" y="170" width="1" height="31" fill="#ff0000"/><rect x="821" y="174" width="5" height="22" fill="#ff0000"/><rect x="822" y="175" width="3" height="20" fill="#ff4500"/><rect x="831" y="167" width="1" height="58" fill="#32cd32"/><rect x="829" y="173" width="5" height="41" fill="#32cd32"/><rect x="839" y="206" width="1" height="32" fill="#32cd32"/><rect x="837" y="213" width="5" height="6" fill="#32cd32"/><rect x="847" y="198" width="1" height="38" fill="#ff0000"/><rect x="845" y="219" width="5" height="1" fill="#ff0000"/><rect x="855" y="188" width="1" height="61" fill="#32cd32"/><rect x="853" y="219" width="5" height="11" fill="#32cd32"/><rect x="863" y="221" width="1" height="25" fill="#ff0000"/><rect x="861" y="224" width="5" height="5" fill="#ff0000"/><rect x="862" y="225" width="3" height="3" fill="#ff4500"/><rect x="871" y="201" width="1" height="31" fill="#ff0000"/><rect x="869" y="224" width="5" height="2" fill="#ff0000"/><rect x="879" y="192" width="1" height="41" fill="#ff0000"/><rect x="877" y="211" width="5" height="13" fill="#ff0000"/><rect x="878" y="212" width="3" height="11" fill="#ff4500"/><rect x="887" y="193" width="1" height="19" fill="#ff0000"/><rect x="885" y="202" width="5" height="10" fill="#ff0000"/><rect x="886" y="203" width="3" height="8" fill="#ff4500"/><rect x="895" y="175" width="1" height="45" fill="#32cd32"/><rect x="893" y="202" width="5" height="9" fill="#32cd32"/><rect x="903" y="113" width="1" height="115" fill="#ff0000"/><rect x="901" y="114" width="5" height="97" fill="#ff0000"/><rect x="902" y="115" width="3" height="95" fill="#ff4500"/><rect x="911" y="93" width="1" height="43" fill="#32cd32"/><rect x="909" y="114" width="5" height="20" fill="#32cd32"/><rect x="919" y="70" width="1" height="65" fill="#ff0000"/><rect x="917" y="89" width="5" height="45" fill="#ff0000"/><rect x="918" y="90" width="3" height="43" fill="#ff4500"/><rect x="927" y="66" width="1" height="25" fill="#ff0000"/><rect x="925" y="74" width="5" height="16" fill="#ff0000"/><rect x="926" y="75" width="3" height="14" fill="#ff4500"/><rect x="935" y="54" width="1" height="26" fill="#32cd32"/><rect x="933" y="74" width="5" height="4" fill="#32cd32"/><rect x="943" y="70" width="1" height="54" fill="#32cd32"/><rect x="941" y="77" width="5" height="34" fill="#32cd32"/><rect x="951" y="86" width="1" height="40" fill="#32cd32"/><rect x="949" y="109" width="5" height="4" fill="#32cd32"/><rect x="959" y="110" width="1" height="18" fill="#32cd32"/><rect x="957" y="112" width="5" height="4" fill="#32cd32"/><rect x="967" y="115" width="1" height="53" fill="#32cd32"/><rect x="965" y="116" width="5" height="31" fill="#32cd32"/><rect x="975" y="145" width="1" height="9" fill="#ff0000"/><rect x="973" y="147" width="5" height="1" fill="#ff0000"/><rect x="615" y="146" width="516" height="2" fill="#96cc00"/><rect x="857" y="55" width="261" height="2" fill="#ff3a3a"/><rect x="734" y="249" width="405" height="1" fill="#3890e0"/></g><g clip-path="url(#cmacd)" shape-rendering="crispEdges"><rect x="6" y="542" width="3" height="22" fill="#c0c0c0"/><rect x="14" y="542" width="3" height="23" fill="#c0c0c0"/><rect x="22" y="542" width="3" height="19" fill="#c0c0c0"/><rect x="30" y="542" width="3" height="15" fill="#c0c0c0"/><rect x="38" y="542" width="3" height="12" fill="#c0c0c0"/><rect x="46" y="542" width="3" height="8" fill="#c0c0c0"/><rect x="54" y="542" width="3" height="6" fill="#c0c0c0"/><rect x="62" y="542" width="3" height="3" fill="#c0c0c0"/><rect x="70" y="542" width="3" height="6" fill="#c0c0c0"/><rect x="78" y="542" width="3" height="8" fill="#c0c0c0"/><rect x="86" y="542" width="3" height="6" fill="#c0c0c0"/><rect x="94" y="542" width="3" height="5" fill="#c0c0c0"/><rect x="102" y="542" width="3" height="6" fill="#c0c0c0"/><rect x="110" y="542" width="3" height="16" fill="#c0c0c0"/><rect x="118" y="542" width="3" height="26" fill="#c0c0c0"/><rect x="126" y="542" width="3" height="31" fill="#c0c0c0"/><rect x="134" y="542" width="3" height="34" fill="#c0c0c0"/><rect x="142" y="542" width="3" height="34" fill="#c0c0c0"/><rect x="150" y="542" width="3" height="34" fill="#c0c0c0"/><rect x="158" y="542" width="3" height="28" fill="#c0c0c0"/><rect x="166" y="542" width="3" height="24" fill="#c0c0c0"/><rect x="174" y="542" width="3" height="20" fill="#c0c0c0"/><rect x="182" y="542" width="3" height="16" fill="#c0c0c0"/><rect x="190" y="542" width="3" height="11" fill="#c0c0c0"/><rect x="198" y="542" width="3" height="10" fill="#c0c0c0"/><rect x="206" y="541" width="3" height="1" fill="#c0c0c0"/><rect x="214" y="537" width="3" height="5" fill="#c0c0c0"/><rect x="222" y="535" width="3" height="7" fill="#c0c0c0"/><rect x="230" y="534" width="3" height="8" fill="#c0c0c0"/><rect x="238" y="529" width="3" height="13" fill="#c0c0c0"/><rect x="246" y="525" width="3" height="17" fill="#c0c0c0"/><rect x="254" y="518" width="3" height="24" fill="#c0c0c0"/><rect x="262" y="509" width="3" height="33" fill="#c0c0c0"/><rect x="270" y="504" width="3" height="38" fill="#c0c0c0"/><rect x="278" y="509" width="3" height="33" fill="#c0c0c0"/><rect x="286" y="512" width="3" height="30" fill="#c0c0c0"/><rect x="294" y="509" width="3" height="33" fill="#c0c0c0"/><rect x="302" y="496" width="3" height="46" fill="#c0c0c0"/><rect x="310" y="491" width="3" height="51" fill="#c0c0c0"/><rect x="318" y="493" width="3" height="49" fill="#c0c0c0"/><rect x="326" y="486" width="3" height="56" fill="#c0c0c0"/><rect x="334" y="485" width="3" height="57" fill="#c0c0c0"/><rect x="342" y="484" width="3" height="58" fill="#c0c0c0"/><rect x="350" y="490" width="3" height="52" fill="#c0c0c0"/><rect x="358" y="498" width="3" height="44" fill="#c0c0c0"/><rect x="366" y="502" width="3" height="40" fill="#c0c0c0"/><rect x="374" y="514" width="3" height="28" fill="#c0c0c0"/><rect x="382" y="521" width="3" height="21" fill="#c0c0c0"/><rect x="390" y="527" width="3" height="15" fill="#c0c0c0"/><rect x="398" y="529" width="3" height="13" fill="#c0c0c0"/><rect x="406" y="526" width="3" height="16" fill="#c0c0c0"/><rect x="414" y="526" width="3" height="16" fill="#c0c0c0"/><rect x="422" y="529" width="3" height="13" fill="#c0c0c0"/><rect x="430" y="532" width="3" height="10" fill="#c0c0c0"/><rect x="438" y="532" width="3" height="10" fill="#c0c0c0"/><rect x="446" y="533" width="3" height="9" fill="#c0c0c0"/><rect x="454" y="537" width="3" height="5" fill="#c0c0c0"/><rect x="462" y="540" width="3" height="2" fill="#c0c0c0"/><rect x="470" y="539" width="3" height="3" fill="#c0c0c0"/><rect x="478" y="542" width="3" height="7" fill="#c0c0c0"/><rect x="486" y="542" width="3" height="9" fill="#c0c0c0"/><rect x="494" y="542" width="3" height="10" fill="#c0c0c0"/><rect x="502" y="542" width="3" height="7" fill="#c0c0c0"/><rect x="510" y="540" width="3" height="2" fill="#c0c0c0"/><rect x="518" y="540" width="3" height="2" fill="#c0c0c0"/><rect x="526" y="532" width="3" height="10" fill="#c0c0c0"/><rect x="534" y="523" width="3" height="19" fill="#c0c0c0"/><rect x="542" y="517" width="3" height="25" fill="#c0c0c0"/><rect x="550" y="511" width="3" height="31" fill="#c0c0c0"/><rect x="558" y="509" width="3" height="33" fill="#c0c0c0"/><rect x="566" y="511" width="3" height="31" fill="#c0c0c0"/><rect x="574" y="512" width="3" height="30" fill="#c0c0c0"/><rect x="582" y="514" width="3" height="28" fill="#c0c0c0"/><rect x="590" y="516" width="3" height="26" fill="#c0c0c0"/><rect x="598" y="516" width="3" height="26" fill="#c0c0c0"/><rect x="606" y="519" width="3" height="23" fill="#c0c0c0"/><rect x="614" y="521" width="3" height="21" fill="#c0c0c0"/><rect x="622" y="519" width="3" height="23" fill="#c0c0c0"/><rect x="630" y="517" width="3" height="25" fill="#c0c0c0"/><rect x="638" y="517" width="3" height="25" fill="#c0c0c0"/><rect x="646" y="512" width="3" height="30" fill="#c0c0c0"/><rect x="654" y="516" width="3" height="26" fill="#c0c0c0"/><rect x="662" y="533" width="3" height="9" fill="#c0c0c0"/><rect x="670" y="542" width="3" height="7" fill="#c0c0c0"/><rect x="678" y="542" width="3" height="20" fill="#c0c0c0"/><rect x="686" y="542" width="3" height="27" fill="#c0c0c0"/><rect x="694" y="542" width="3" height="30" fill="#c0c0c0"/><rect x="702" y="542" width="3" height="33" fill="#c0c0c0"/><rect x="710" y="542" width="3" height="35" fill="#c0c0c0"/><rect x="718" y="542" width="3" height="32" fill="#c0c0c0"/><rect x="726" y="542" width="3" height="29" fill="#c0c0c0"/><rect x="734" y="542" width="3" height="25" fill="#c0c0c0"/><rect x="742" y="542" width="3" height="23" fill="#c0c0c0"/><rect x="750" y="542" width="3" height="19" fill="#c0c0c0"/><rect x="758" y="542" width="3" height="25" fill="#c0c0c0"/><rect x="766" y="542" width="3" height="19" fill="#c0c0c0"/><rect x="774" y="542" width="3" height="16" fill="#c0c0c0"/><rect x="782" y="542" width="3" height="10" fill="#c0c0c0"/><rect x="790" y="542" width="3" height="6" fill="#c0c0c0"/><rect x="798" y="540" width="3" height="2" fill="#c0c0c0"/><rect x="806" y="529" width="3" height="13" fill="#c0c0c0"/><rect x="814" y="522" width="3" height="20" fill="#c0c0c0"/><rect x="822" y="514" width="3" height="28" fill="#c0c0c0"/><rect x="830" y="512" width="3" height="30" fill="#c0c0c0"/><rect x="838" y="513" width="3" height="29" fill="#c0c0c0"/><rect x="846" y="513" width="3" height="29" fill="#c0c0c0"/><rect x="854" y="515" width="3" height="27" fill="#c0c0c0"/><rect x="862" y="516" width="3" height="26" fill="#c0c0c0"/><rect x="870" y="517" width="3" height="25" fill="#c0c0c0"/><rect x="878" y="517" width="3" height="25" fill="#c0c0c0"/><rect x="886" y="516" width="3" height="26" fill="#c0c0c0"/><rect x="894" y="516" width="3" height="26" fill="#c0c0c0"/><rect x="902" y="505" width="3" height="37" fill="#c0c0c0"/><rect x="910" y="498" width="3" height="44" fill="#c0c0c0"/><rect x="918" y="488" width="3" height="54" fill="#c0c0c0"/><rect x="926" y="479" width="3" height="63" fill="#c0c0c0"/><rect x="934" y="473" width="3" height="69" fill="#c0c0c0"/><rect x="942" y="473" width="3" height="69" fill="#c0c0c0"/><rect x="950" y="474" width="3" height="68" fill="#c0c0c0"/><rect x="958" y="476" width="3" height="66" fill="#c0c0c0"/><rect x="966" y="483" width="3" height="59" fill="#c0c0c0"/><rect x="974" y="488" width="3" height="54" fill="#c0c0c0"/><path d="M973 481h3v1h-3zM969 482h4v1h-4zM966 483h3v1h-3zM964 484h2v1h-2zM962 485h2v1h-2zM960 486h2v1h-2zM958 487h2v1h-2zM956 488h2v1h-2zM954 489h2v1h-2zM952 490h2v1h-2zM951 491h1v1h-1zM357 492h12v1h-12zM949 492h2v1h-2zM353 493h4v1h-4zM369 493h4v1h-4zM947 493h2v1h-2zM349 494h4v1h-4zM373 494h4v1h-4zM946 494h1v1h-1zM345 495h4v1h-4zM377 495h2v1h-2zM944 495h2v1h-2zM341 496h4v1h-4zM379 496h3v1h-3zM943 496h1v1h-1zM337 497h4v1h-4zM382 497h2v1h-2zM941 497h2v1h-2zM334 498h3v1h-3zM384 498h2v1h-2zM939 498h2v1h-2zM331 499h3v1h-3zM386 499h2v1h-2zM938 499h1v1h-1zM329 500h2v1h-2zM388 500h2v1h-2zM936 500h2v1h-2zM326 501h3v1h-3zM390 501h2v1h-2zM935 501h1v1h-1zM323 502h3v1h-3zM392 502h2v1h-2zM933 502h2v1h-2zM321 503h2v1h-2zM394 503h2v1h-2zM931 503h2v1h-2zM318 504h3v1h-3zM396 504h2v1h-2zM930 504h1v1h-1zM316 505h2v1h-2zM398 505h2v1h-2zM928 505h2v1h-2zM314 506h2v1h-2zM400 506h2v1h-2zM926 506h2v1h-2zM312 507h2v1h-2zM402 507h1v1h-1zM924 507h2v1h-2zM310 508h2v1h-2zM403 508h2v1h-2zM922 508h2v1h-2zM308 509h2v1h-2zM405 509h2v1h-2zM920 509h2v1h-2zM306 510h2v1h-2zM407 510h1v1h-1zM918 510h2v1h-2zM304 511h2v1h-2zM408 511h2v1h-2zM915 511h3v1h-3zM302 512h2v1h-2zM410 512h1v1h-1zM913 512h2v1h-2zM300 513h2v1h-2zM411 513h2v1h-2zM907 513h6v1h-6zM298 514h2v1h-2zM413 514h2v1h-2zM597 514h22v1h-22zM899 514h8v1h-8zM296 515h2v1h-2zM415 515h1v1h-1zM593 515h4v1h-4zM619 515h8v1h-8zM883 515h16v1h-16zM294 516h2v1h-2zM416 516h2v1h-2zM590 516h3v1h-3zM627 516h8v1h-8zM875 516h8v1h-8zM291 517h3v1h-3zM418 517h2v1h-2zM587 517h3v1h-3zM635 517h22v1h-22zM869 517h6v1h-6zM289 518h2v1h-2zM420 518h2v1h-2zM585 518h2v1h-2zM657 518h4v1h-4zM865 518h4v1h-4zM286 519h3v1h-3zM422 519h2v1h-2zM582 519h3v1h-3zM661 519h4v1h-4zM862 519h3v1h-3zM283 520h3v1h-3zM424 520h2v1h-2zM579 520h3v1h-3zM665 520h2v1h-2zM860 520h2v1h-2zM281 521h2v1h-2zM426 521h2v1h-2zM577 521h2v1h-2zM667 521h3v1h-3zM858 521h2v1h-2zM278 522h3v1h-3zM428 522h2v1h-2zM574 522h3v1h-3zM670 522h2v1h-2zM856 522h2v1h-2zM276 523h2v1h-2zM430 523h3v1h-3zM572 523h2v1h-2zM672 523h2v1h-2zM854 523h2v1h-2zM274 524h2v1h-2zM433 524h2v1h-2zM570 524h2v1h-2zM674 524h1v1h-1zM852 524h2v1h-2zM272 525h2v1h-2zM435 525h3v1h-3zM568 525h2v1h-2zM675 525h2v1h-2zM850 525h2v1h-2zM271 526h1v1h-1zM438 526h3v1h-3zM566 526h2v1h-2zM677 526h2v1h-2zM848 526h2v1h-2zM269 527h2v1h-2zM441 527h4v1h-4zM564 527h2v1h-2zM679 527h1v1h-1zM847 527h1v1h-1zM267 528h2v1h-2zM445 528h4v1h-4zM562 528h2v1h-2zM680 528h1v1h-1zM845 528h2v1h-2zM266 529h1v1h-1zM449 529h4v1h-4zM560 529h2v1h-2zM681 529h2v1h-2zM843 529h2v1h-2zM264 530h2v1h-2zM453 530h6v1h-6zM559 530h1v1h-1zM683 530h1v1h-1zM842 530h1v1h-1zM263 531h1v1h-1zM459 531h6v1h-6zM557 531h2v1h-2zM684 531h1v1h-1zM840 531h2v1h-2zM261 532h2v1h-2zM465 532h4v1h-4zM555 532h2v1h-2zM685 532h2v1h-2zM839 532h1v1h-1zM259 533h2v1h-2zM469 533h4v1h-4zM554 533h1v1h-1zM687 533h1v1h-1zM837 533h2v1h-2zM258 534h1v1h-1zM473 534h4v1h-4zM552 534h2v1h-2zM688 534h2v1h-2zM835 534h2v1h-2zM256 535h2v1h-2zM477 535h4v1h-4zM550 535h2v1h-2zM690 535h1v1h-1zM834 535h1v1h-1zM254 536h2v1h-2zM481 536h2v1h-2zM548 536h2v1h-2zM691 536h2v1h-2zM832 536h2v1h-2zM252 537h2v1h-2zM483 537h3v1h-3zM546 537h2v1h-2zM693 537h2v1h-2zM831 537h1v1h-1zM250 538h2v1h-2zM486 538h3v1h-3zM544 538h2v1h-2zM695 538h1v1h-1zM829 538h2v1h-2zM248 539h2v1h-2zM489 539h4v1h-4zM541 539h3v1h-3zM696 539h1v1h-1zM828 539h1v1h-1zM247 540h1v1h-1zM493 540h4v1h-4zM537 540h4v1h-4zM697 540h1v1h-1zM827 540h1v1h-1zM7 541h1v1h-1zM245 541h2v1h-2zM497 541h4v1h-4zM533 541h4v1h-4zM698 541h1v1h-1zM825 541h2v1h-2zM8 542h2v1h-2zM243 542h2v1h-2zM501 542h6v1h-6zM529 542h4v1h-4zM699 542h2v1h-2zM824 542h1v1h-1zM10 543h1v1h-1zM242 543h1v1h-1zM507 543h8v1h-8zM523 543h6v1h-6zM701 543h1v1h-1zM823 543h1v1h-1zM11 544h2v1h-2zM240 544h2v1h-2zM515 544h8v1h-8zM702 544h1v1h-1zM821 544h2v1h-2zM13 545h2v1h-2zM238 545h2v1h-2zM703 545h1v1h-1zM819 545h2v1h-2zM15 546h1v1h-1zM236 546h2v1h-2zM704 546h1v1h-1zM818 546h1v1h-1zM16 547h2v1h-2zM234 547h2v1h-2zM705 547h2v1h-2zM816 547h2v1h-2zM18 548h2v1h-2zM99 548h8v1h-8zM232 548h2v1h-2zM707 548h1v1h-1zM815 548h1v1h-1zM20 549h2v1h-2zM93 549h6v1h-6zM107 549h6v1h-6zM230 549h2v1h-2zM708 549h1v1h-1zM813 549h2v1h-2zM22 550h3v1h-3zM89 550h4v1h-4zM113 550h4v1h-4zM228 550h2v1h-2zM709 550h2v1h-2zM811 550h2v1h-2zM25 551h2v1h-2zM85 551h4v1h-4zM117 551h4v1h-4zM226 551h2v1h-2zM711 551h1v1h-1zM810 551h1v1h-1zM27 552h3v1h-3zM81 552h4v1h-4zM121 552h2v1h-2zM224 552h2v1h-2zM712 552h1v1h-1zM808 552h2v1h-2zM30 553h3v1h-3zM75 553h6v1h-6zM123 553h3v1h-3zM222 553h2v1h-2zM713 553h1v1h-1zM806 553h2v1h-2zM33 554h4v1h-4zM67 554h8v1h-8zM126 554h3v1h-3zM220 554h2v1h-2zM714 554h1v1h-1zM804 554h2v1h-2zM37 555h6v1h-6zM59 555h8v1h-8zM129 555h2v1h-2zM218 555h2v1h-2zM715 555h2v1h-2zM802 555h2v1h-2zM43 556h16v1h-16zM131 556h3v1h-3zM216 556h2v1h-2zM717 556h1v1h-1zM800 556h2v1h-2zM134 557h3v1h-3zM214 557h2v1h-2zM718 557h1v1h-1zM798 557h2v1h-2zM137 558h2v1h-2zM212 558h2v1h-2zM719 558h1v1h-1zM796 558h2v1h-2zM139 559h3v1h-3zM210 559h2v1h-2zM720 559h1v1h-1zM794 559h2v1h-2zM142 560h3v1h-3zM208 560h2v1h-2zM721 560h2v1h-2zM792 560h2v1h-2zM145 561h2v1h-2zM206 561h2v1h-2zM723 561h1v1h-1zM790 561h2v1h-2zM147 562h3v1h-3zM204 562h2v1h-2zM724 562h1v1h-1zM787 562h3v1h-3zM150 563h3v1h-3zM202 563h2v1h-2zM725 563h2v1h-2zM785 563h2v1h-2zM153 564h2v1h-2zM200 564h2v1h-2zM727 564h1v1h-1zM781 564h4v1h-4zM155 565h3v1h-3zM198 565h2v1h-2zM728 565h2v1h-2zM777 565h4v1h-4zM158 566h3v1h-3zM195 566h3v1h-3zM730 566h2v1h-2zM773 566h4v1h-4zM161 567h4v1h-4zM193 567h2v1h-2zM732 567h2v1h-2zM769 567h4v1h-4zM165 568h6v1h-6zM187 568h6v1h-6zM734 568h3v1h-3zM765 568h4v1h-4zM171 569h16v1h-16zM737 569h4v1h-4zM761 569h4v1h-4zM741 570h20v1h-20z" fill="#ff0000"/></g><rect x="13" y="39" width="1" height="1" fill="#000"/><rect x="12" y="40" width="3" height="1" fill="#000"/><rect x="11" y="41" width="5" height="1" fill="#000"/><rect x="10" y="42" width="7" height="1" fill="#000"/><rect x="2" y="605" width="1278" height="1" fill="#000000"/><rect x="2" y="606" width="1276" height="1" fill="#ffffff"/><rect x="0" y="607" width="1280" height="18" fill="#f0f0f0"/><rect x="0" y="625" width="1280" height="1" fill="#ffffff"/><rect x="0" y="626" width="1280" height="3" fill="#f0f0f0"/><rect x="0" y="629" width="1280" height="1" fill="#a0a0a0"/><rect x="0" y="630" width="1280" height="2" fill="#f0f0f0"/><rect x="2" y="606" width="1" height="18" fill="#a0a0a0"/><rect x="3" y="606" width="1" height="18" fill="#696969"/><rect x="9" y="605" width="90" height="18" fill="#ffffff"/><rect x="8" y="605" width="1" height="19" fill="#000"/><rect x="8" y="623" width="92" height="1" fill="#000"/><rect x="99" y="605" width="1" height="19" fill="#000"/><rect x="204" y="608" width="1" height="14" fill="#606060"/><rect x="304" y="608" width="1" height="14" fill="#606060"/><rect x="407" y="608" width="1" height="14" fill="#606060"/><rect x="511" y="608" width="1" height="14" fill="#606060"/><rect x="596" y="608" width="1" height="14" fill="#606060"/><rect x="688" y="608" width="1" height="14" fill="#606060"/><rect x="780" y="608" width="1" height="14" fill="#606060"/><rect x="868" y="608" width="1" height="14" fill="#606060"/><rect x="972" y="608" width="1" height="14" fill="#606060"/><rect x="1040" y="608" width="1" height="14" fill="#606060"/><rect x="1132" y="608" width="1" height="14" fill="#606060"/><polygon points="1251,610.5 1251,617.5 1247.5,614" fill="#909090"/><polygon points="1267,610.5 1267,617.5 1270.5,614" fill="#909090"/><defs>
<linearGradient id="hdr" x1="0" y1="0" x2="0" y2="1"><stop offset="0" stop-color="#5858ff"/><stop offset="1" stop-color="#2f2fe4"/></linearGradient>
<linearGradient id="pbox" x1="0" y1="0" x2="0" y2="1"><stop offset="0" stop-color="#3838e6"/><stop offset="1" stop-color="#0000ae"/></linearGradient>
<linearGradient id="btn" x1="0" y1="0" x2="0" y2="1"><stop offset="0" stop-color="#f2f2f2"/><stop offset="0.33" stop-color="#ebebeb"/><stop offset="0.34" stop-color="#dedede"/><stop offset="1" stop-color="#d2d2d2"/></linearGradient>
<linearGradient id="hdr2" x1="0" y1="0" x2="0" y2="1"><stop offset="0" stop-color="#2d2de0"/><stop offset="1" stop-color="#2d2de0"/></linearGradient>
</defs><rect x="10" y="52" width="52" height="25" fill="#0000b4"/><rect x="11" y="53" width="50" height="23" fill="url(#hdr)"/><rect x="10" y="76" width="109" height="40" fill="#0000a8"/><rect x="11" y="77" width="107" height="38" fill="url(#pbox)"/><rect x="11" y="76" width="50" height="1" fill="url(#hdr2)"/><rect x="14" y="75" width="44" height="1" fill="#1a1aa8"/><rect x="14" y="76" width="44" height="1" fill="#7b7bff"/><rect x="177" y="52" width="52" height="25" fill="#0000b4"/><rect x="178" y="53" width="50" height="23" fill="url(#hdr)"/><rect x="121" y="76" width="108" height="40" fill="#0000a8"/><rect x="122" y="77" width="106" height="38" fill="url(#pbox)"/><rect x="178" y="76" width="50" height="1" fill="url(#hdr2)"/><rect x="181" y="75" width="44" height="1" fill="#1a1aa8"/><rect x="181" y="76" width="44" height="1" fill="#7b7bff"/><rect x="64" y="52" width="111" height="22" fill="#acacb4"/><rect x="65" y="53" width="109" height="20" fill="#ffffff"/><rect x="66" y="54" width="19" height="18" fill="url(#btn)"/><rect x="85" y="53" width="1" height="20" fill="#acacb4"/><rect x="155" y="54" width="18" height="18" fill="url(#btn)"/><rect x="153" y="53" width="1" height="20" fill="#acacb4"/><polygon points="72,61 77,61 74.5,64" fill="#4a64c8"/><polygon points="161,64 166,64 163.5,61" fill="#4a64c8"/></svg>
<div class="t" style="left:-0.5px;top:13px;font-size:10px;line-height:10px;color:#303030;font-weight:400;letter-spacing:-0.1px;will-change:transform;-webkit-text-stroke:0.25px #303030">M1</div><div class="t" style="left:27.2px;top:13px;font-size:10px;line-height:10px;color:#303030;font-weight:400;letter-spacing:-0.1px;will-change:transform;-webkit-text-stroke:0.25px #303030">M5</div><div class="t" style="left:53px;top:13px;font-size:10px;line-height:10px;color:#303030;font-weight:400;letter-spacing:-0.1px;will-change:transform;-webkit-text-stroke:0.25px #303030">M15</div><div class="t" style="left:81px;top:13px;font-size:10px;line-height:10px;color:#303030;font-weight:400;letter-spacing:-0.1px;will-change:transform;-webkit-text-stroke:0.25px #303030">M30</div><div class="t" style="left:112px;top:13px;font-size:10px;line-height:10px;color:#303030;font-weight:400;letter-spacing:-0.1px;will-change:transform;-webkit-text-stroke:0.25px #303030">H1</div><div class="t" style="left:139px;top:13px;font-size:10px;line-height:10px;color:#303030;font-weight:400;letter-spacing:-0.1px;will-change:transform;-webkit-text-stroke:0.25px #303030">H4</div><div class="t" style="left:168.3px;top:13px;font-size:10px;line-height:10px;color:#303030;font-weight:400;letter-spacing:-0.1px;will-change:transform;-webkit-text-stroke:0.25px #303030">D1</div><div class="t" style="left:195.5px;top:13px;font-size:10px;line-height:10px;color:#303030;font-weight:400;letter-spacing:-0.1px;will-change:transform;-webkit-text-stroke:0.25px #303030">W1</div><div class="t" style="left:222px;top:13px;font-size:10px;line-height:10px;color:#303030;font-weight:400;letter-spacing:-0.1px;will-change:transform;-webkit-text-stroke:0.25px #303030">MN</div><div class="t" style="left:21.5px;top:37px;font-size:10px;line-height:10px;color:#000;font-weight:400;letter-spacing:0.59px;transform:scaleX(0.86);transform-origin:0 0;-webkit-text-stroke:0.25px #000">EURUSD,H4</div><div class="t" style="left:82.2px;top:37px;font-size:10px;line-height:10px;color:#000;font-weight:400;letter-spacing:0.3px;transform:scaleX(0.86);transform-origin:0 0;-webkit-text-stroke:0.25px #000">1.14987</div><div class="t" style="left:118px;top:37px;font-size:10px;line-height:10px;color:#000;font-weight:400;letter-spacing:0.3px;transform:scaleX(0.86);transform-origin:0 0;-webkit-text-stroke:0.25px #000">1.15003</div><div class="t" style="left:154px;top:37px;font-size:10px;line-height:10px;color:#000;font-weight:400;letter-spacing:0.3px;transform:scaleX(0.86);transform-origin:0 0;-webkit-text-stroke:0.25px #000">1.14944</div><div class="t" style="left:189.8px;top:37px;font-size:10px;line-height:10px;color:#000;font-weight:400;letter-spacing:0.3px;transform:scaleX(0.86);transform-origin:0 0;-webkit-text-stroke:0.25px #000">1.14997</div><div class="t" style="left:22px;top:58px;font-size:12px;line-height:12px;color:#e6e6ff;font-weight:400;letter-spacing:-0.8px">SELL</div><div class="t" style="left:190px;top:58px;font-size:12px;line-height:12px;color:#e6e6ff;font-weight:400;letter-spacing:-0.4px">BUY</div><div class="t" style="left:126px;top:57px;font-size:12px;line-height:12px;color:#000;font-weight:400">0.01</div><div class="t" style="left:30.5px;top:97px;font-size:12px;line-height:12px;color:#fff;font-weight:700">1.14</div><div class="t" style="left:57.5px;top:79px;font-size:34px;line-height:34px;color:#fff;font-weight:400;letter-spacing:-2.2px">99</div><div class="t" style="left:97.5px;top:81px;font-size:12px;line-height:12px;color:#fff;font-weight:700">7</div><div class="t" style="left:140.5px;top:97px;font-size:12px;line-height:12px;color:#fff;font-weight:700">1.15</div><div class="t" style="left:168px;top:79px;font-size:34px;line-height:34px;color:#fff;font-weight:400;letter-spacing:-2.2px">01</div><div class="t" style="left:208.5px;top:81px;font-size:12px;line-height:12px;color:#fff;font-weight:700">7</div><div class="t" style="left:1237.6px;top:62px;font-size:10px;line-height:10px;color:#000;font-weight:400;letter-spacing:0.55px;transform:scaleX(0.86);transform-origin:0 0;-webkit-text-stroke:0.25px #000">1.15600</div><div class="t" style="left:1237.6px;top:95px;font-size:10px;line-height:10px;color:#000;font-weight:400;letter-spacing:0.55px;transform:scaleX(0.86);transform-origin:0 0;-webkit-text-stroke:0.25px #000">1.15355</div><div class="t" style="left:1237.6px;top:128px;font-size:10px;line-height:10px;color:#000;font-weight:400;letter-spacing:0.55px;transform:scaleX(0.86);transform-origin:0 0;-webkit-text-stroke:0.25px #000">1.15105</div><div class="t" style="left:1237.6px;top:161px;font-size:10px;line-height:10px;color:#000;font-weight:400;letter-spacing:0.55px;transform:scaleX(0.86);transform-origin:0 0;-webkit-text-stroke:0.25px #000">1.14860</div><div class="t" style="left:1237.6px;top:194px;font-size:10px;line-height:10px;color:#000;font-weight:400;letter-spacing:0.55px;transform:scaleX(0.86);transform-origin:0 0;-webkit-text-stroke:0.25px #000">1.14610</div><div class="t" style="left:1237.6px;top:227px;font-size:10px;line-height:10px;color:#000;font-weight:400;letter-spacing:0.55px;transform:scaleX(0.86);transform-origin:0 0;-webkit-text-stroke:0.25px #000">1.14365</div><div class="t" style="left:1237.6px;top:260px;font-size:10px;line-height:10px;color:#000;font-weight:400;letter-spacing:0.55px;transform:scaleX(0.86);transform-origin:0 0;-webkit-text-stroke:0.25px #000">1.14115</div><div class="t" style="left:1237.6px;top:293px;font-size:10px;line-height:10px;color:#000;font-weight:400;letter-spacing:0.55px;transform:scaleX(0.86);transform-origin:0 0;-webkit-text-stroke:0.25px #000">1.13865</div><div class="t" style="left:1237.6px;top:326px;font-size:10px;line-height:10px;color:#000;font-weight:400;letter-spacing:0.55px;transform:scaleX(0.86);transform-origin:0 0;-webkit-text-stroke:0.25px #000">1.13620</div><div class="t" style="left:1237.6px;top:359px;font-size:10px;line-height:10px;color:#000;font-weight:400;letter-spacing:0.55px;transform:scaleX(0.86);transform-origin:0 0;-webkit-text-stroke:0.25px #000">1.13375</div><div class="t" style="left:1237.6px;top:392px;font-size:10px;line-height:10px;color:#000;font-weight:400;letter-spacing:0.55px;transform:scaleX(0.86);transform-origin:0 0;-webkit-text-stroke:0.25px #000">1.13125</div><div class="t" style="left:1237.6px;top:425px;font-size:10px;line-height:10px;color:#000;font-weight:400;letter-spacing:0.55px;transform:scaleX(0.86);transform-origin:0 0;-webkit-text-stroke:0.25px #000">1.12875</div><div class="t" style="left:1237.6px;top:458px;font-size:10px;line-height:10px;color:#000;font-weight:400;letter-spacing:0.55px;transform:scaleX(0.86);transform-origin:0 0;-webkit-text-stroke:0.25px #000">1.12630</div><div style="position:absolute;left:1234px;top:141px;width:41px;height:11px;background:#000"></div><div class="t" style="left:1237.8px;top:143px;font-size:10px;line-height:10px;color:#fff;font-weight:400;letter-spacing:0.55px;transform:scaleX(0.86);transform-origin:0 0;-webkit-text-stroke:0.25px #fff">1.14997</div><div class="t" style="left:11px;top:472px;font-size:10px;line-height:10px;color:#000;font-weight:400;letter-spacing:0.44px;transform:scaleX(0.86);transform-origin:0 0;-webkit-text-stroke:0.25px #000">MACD(12,26,9) 0.002479 0.002806</div><div class="t" style="left:1236px;top:470px;font-size:10px;line-height:10px;color:#000;font-weight:400;letter-spacing:0.36px;transform:scaleX(0.86);transform-origin:0 0;-webkit-text-stroke:0.25px #000">0.003452</div><div class="t" style="left:1236px;top:539px;font-size:10px;line-height:10px;color:#000;font-weight:400;letter-spacing:0.3px;transform:scaleX(0.86);transform-origin:0 0;-webkit-text-stroke:0.25px #000">0.00</div><div class="t" style="left:1236px;top:572px;font-size:10px;line-height:10px;color:#000;font-weight:400;letter-spacing:0.3px;transform:scaleX(0.86);transform-origin:0 0;-webkit-text-stroke:0.25px #000">-0.001851</div><div class="t" style="left:5.6px;top:588px;font-size:10px;line-height:10px;color:#000;font-weight:400;letter-spacing:0.42px;transform:scaleX(0.86);transform-origin:0 0;-webkit-text-stroke:0.25px #000">12 Dec 2018</div><div class="t" style="left:69.6px;top:588px;font-size:10px;line-height:10px;color:#000;font-weight:400;letter-spacing:0.42px;transform:scaleX(0.86);transform-origin:0 0;-webkit-text-stroke:0.25px #000">13 Dec 19:00</div><div class="t" style="left:133.6px;top:588px;font-size:10px;line-height:10px;color:#000;font-weight:400;letter-spacing:0.42px;transform:scaleX(0.86);transform-origin:0 0;-webkit-text-stroke:0.25px #000">15 Dec 00:00</div><div class="t" style="left:197.6px;top:588px;font-size:10px;line-height:10px;color:#000;font-weight:400;letter-spacing:0.42px;transform:scaleX(0.86);transform-origin:0 0;-webkit-text-stroke:0.25px #000">18 Dec 11:00</div><div class="t" style="left:261.6px;top:588px;font-size:10px;line-height:10px;color:#000;font-weight:400;letter-spacing:0.42px;transform:scaleX(0.86);transform-origin:0 0;-webkit-text-stroke:0.25px #000">19 Dec 19:00</div><div class="t" style="left:325.6px;top:588px;font-size:10px;line-height:10px;color:#000;font-weight:400;letter-spacing:0.42px;transform:scaleX(0.86);transform-origin:0 0;-webkit-text-stroke:0.25px #000">21 Dec 00:00</div><div class="t" style="left:389.6px;top:588px;font-size:10px;line-height:10px;color:#000;font-weight:400;letter-spacing:0.42px;transform:scaleX(0.86);transform-origin:0 0;-webkit-text-stroke:0.25px #000">24 Dec 11:00</div><div class="t" style="left:453.6px;top:588px;font-size:10px;line-height:10px;color:#000;font-weight:400;letter-spacing:0.42px;transform:scaleX(0.86);transform-origin:0 0;-webkit-text-stroke:0.25px #000">26 Dec 15:00</div><div class="t" style="left:517.6px;top:588px;font-size:10px;line-height:10px;color:#000;font-weight:400;letter-spacing:0.42px;transform:scaleX(0.86);transform-origin:0 0;-webkit-text-stroke:0.25px #000">27 Dec 23:00</div><div class="t" style="left:581.6px;top:588px;font-size:10px;line-height:10px;color:#000;font-weight:400;letter-spacing:0.42px;transform:scaleX(0.86);transform-origin:0 0;-webkit-text-stroke:0.25px #000">31 Dec 07:00</div><div class="t" style="left:645.6px;top:588px;font-size:10px;line-height:10px;color:#000;font-weight:400;letter-spacing:0.42px;transform:scaleX(0.86);transform-origin:0 0;-webkit-text-stroke:0.25px #000">2 Jan 11:00</div><div class="t" style="left:709.6px;top:588px;font-size:10px;line-height:10px;color:#000;font-weight:400;letter-spacing:0.42px;transform:scaleX(0.86);transform-origin:0 0;-webkit-text-stroke:0.25px #000">3 Jan 19:00</div><div class="t" style="left:773.6px;top:588px;font-size:10px;line-height:10px;color:#000;font-weight:400;letter-spacing:0.42px;transform:scaleX(0.86);transform-origin:0 0;-webkit-text-stroke:0.25px #000">5 Jan 00:00</div><div class="t" style="left:837.6px;top:588px;font-size:10px;line-height:10px;color:#000;font-weight:400;letter-spacing:0.42px;transform:scaleX(0.86);transform-origin:0 0;-webkit-text-stroke:0.25px #000">8 Jan 11:00</div><div class="t" style="left:901.6px;top:588px;font-size:10px;line-height:10px;color:#000;font-weight:400;letter-spacing:0.42px;transform:scaleX(0.86);transform-origin:0 0;-webkit-text-stroke:0.25px #000">9 Jan 19:00</div><div class="t" style="left:965.6px;top:588px;font-size:10px;line-height:10px;color:#000;font-weight:400;letter-spacing:0.42px;transform:scaleX(0.86);transform-origin:0 0;-webkit-text-stroke:0.25px #000">11 Jan 00:00</div><div class="t" style="left:20px;top:610px;font-size:12px;line-height:12px;color:#000;font-weight:400;letter-spacing:-0.15px">EURUSD,H4</div><div class="t" style="left:111px;top:610px;font-size:12px;line-height:12px;color:#5c5c5c;font-weight:400;letter-spacing:0.17px">AUDUSD,Daily</div><div class="t" style="left:214.5px;top:610px;font-size:12px;line-height:12px;color:#5c5c5c;font-weight:400;letter-spacing:0.04px">USDCHF,Daily</div><div class="t" style="left:315.5px;top:610px;font-size:12px;line-height:12px;color:#5c5c5c;font-weight:400">USDCAD,Daily</div><div class="t" style="left:418px;top:610px;font-size:12px;line-height:12px;color:#5c5c5c;font-weight:400;letter-spacing:0.26px">USDCNH,Daily</div><div class="t" style="left:522px;top:610px;font-size:12px;line-height:12px;color:#5c5c5c;font-weight:400;letter-spacing:-0.05px">USDJPY,H4</div><div class="t" style="left:606.5px;top:610px;font-size:12px;line-height:12px;color:#5c5c5c;font-weight:400">XAUUSD,H1</div><div class="t" style="left:700.5px;top:610px;font-size:12px;line-height:12px;color:#5c5c5c;font-weight:400;letter-spacing:-0.15px">GBPUSD,H1</div><div class="t" style="left:792px;top:610px;font-size:12px;line-height:12px;color:#5c5c5c;font-weight:400;letter-spacing:0.3px">SP500,M15</div><div class="t" style="left:880.4px;top:610px;font-size:12px;line-height:12px;color:#5c5c5c;font-weight:400;letter-spacing:-0.05px">GBPUSD,Daily</div><div class="t" style="left:982.5px;top:610px;font-size:12px;line-height:12px;color:#5c5c5c;font-weight:400;letter-spacing:0.1px">DJ30,H4</div><div class="t" style="left:1050.5px;top:610px;font-size:12px;line-height:12px;color:#5c5c5c;font-weight:400">TECH100,H1</div>
</body></html>
